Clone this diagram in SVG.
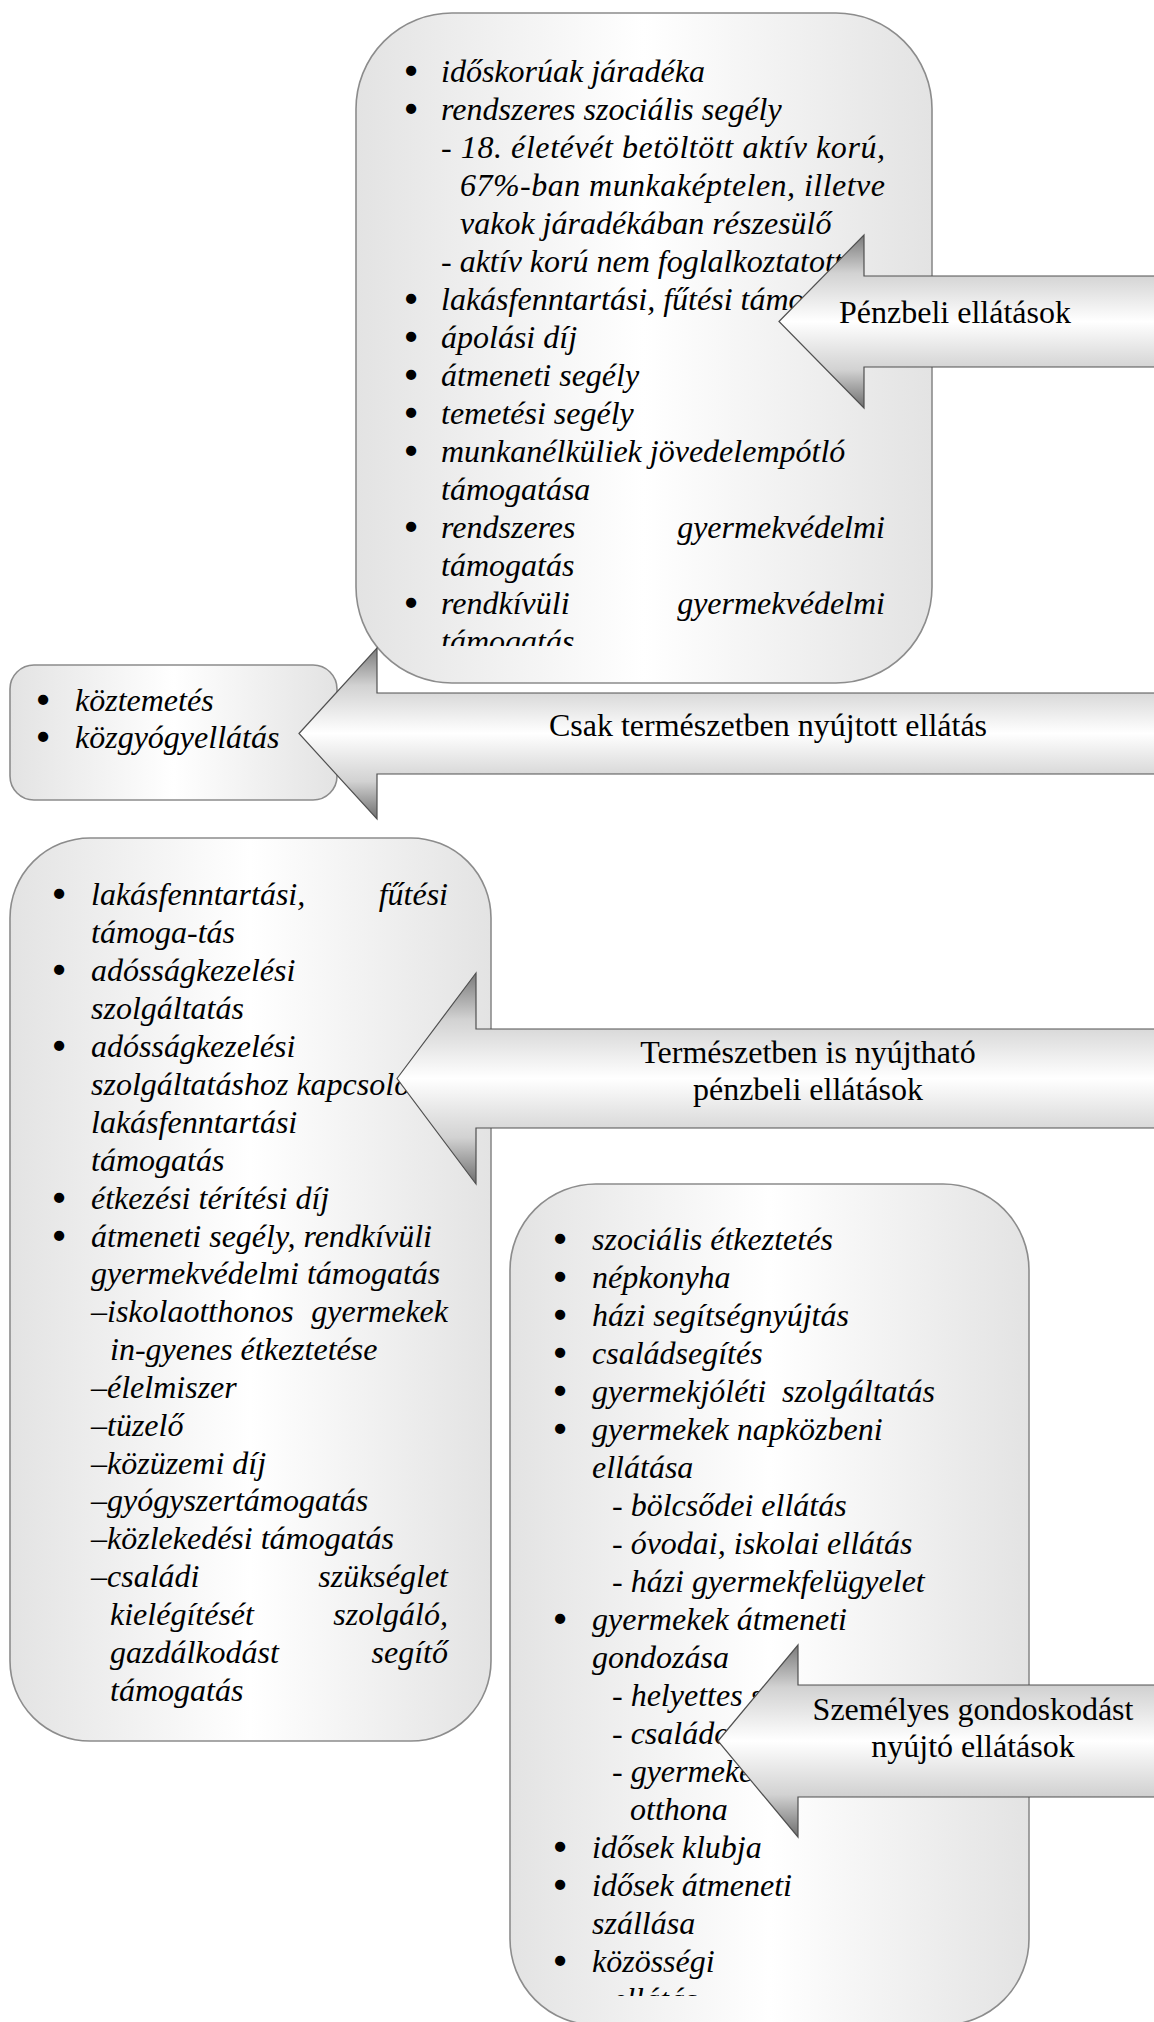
<svg xmlns="http://www.w3.org/2000/svg" width="1154" height="2022" viewBox="0 0 1154 2022">
<style>
.box{fill:url(#boxGrad);stroke:#8c8c8c;stroke-width:1.6}
.arrow{fill:url(#arrowGrad);stroke:#505050;stroke-width:1.2}
.it{font-family:"Liberation Serif","Times New Roman",serif;font-style:italic;font-size:32px;fill:#000}
.bul{font-family:"Liberation Serif","Times New Roman",serif;font-size:32px;fill:#000;stroke:#000;stroke-width:2.6;text-anchor:middle}
.end{text-anchor:end}
.lbl{font-family:"Liberation Serif","Times New Roman",serif;font-size:32px;fill:#000;text-anchor:middle}
</style>
<defs>
<linearGradient id="boxGrad" x1="0" y1="0" x2="1" y2="0">
<stop offset="0" stop-color="#e3e3e3"/>
<stop offset="0.5" stop-color="#ffffff"/>
<stop offset="1" stop-color="#e3e3e3"/>
</linearGradient>
<linearGradient id="arrowGrad" x1="0" y1="0" x2="0" y2="1">
<stop offset="0" stop-color="#7a7a7a"/>
<stop offset="0.22" stop-color="#d2d2d2"/>
<stop offset="0.5" stop-color="#ffffff"/>
<stop offset="0.78" stop-color="#d2d2d2"/>
<stop offset="1" stop-color="#6e6e6e"/>
</linearGradient>
<clipPath id="clip1"><rect x="356" y="13" width="576" height="633"/></clipPath>
<clipPath id="clip4"><rect x="510" y="1184" width="519" height="812"/></clipPath>
</defs>

<g id="node-penzbeli-list">
<rect class="box" x="356" y="13" width="576" height="670" rx="96" ry="96"/>
<g clip-path="url(#clip1)">
<text class="bul" x="411" y="82">•</text><text class="it" x="441" y="82">időskorúak járadéka</text>
<text class="bul" x="411" y="120">•</text><text class="it" x="441" y="120">rendszeres szociális segély</text>
<text class="it" x="441" y="158" textLength="444" lengthAdjust="spacing">- 18. életévét betöltött aktív korú,</text>
<text class="it" x="460" y="196" textLength="425" lengthAdjust="spacing">67%-ban munkaképtelen, illetve</text>
<text class="it" x="460" y="234">vakok járadékában részesülő</text>
<text class="it" x="441" y="272">- aktív korú nem foglalkoztatott</text>
<text class="bul" x="411" y="310">•</text><text class="it" x="441" y="310">lakásfenntartási, fűtési támo</text>
<text class="bul" x="411" y="348">•</text><text class="it" x="441" y="348">ápolási díj</text>
<text class="bul" x="411" y="386">•</text><text class="it" x="441" y="386">átmeneti segély</text>
<text class="bul" x="411" y="424">•</text><text class="it" x="441" y="424">temetési segély</text>
<text class="bul" x="411" y="462">•</text><text class="it" x="441" y="462">munkanélküliek jövedelempótló</text>
<text class="it" x="441" y="500">támogatása</text>
<text class="bul" x="411" y="538">•</text><text class="it" x="441" y="538">rendszeres</text><text class="it end" x="885" y="538">gyermekvédelmi</text>
<text class="it" x="441" y="576">támogatás</text>
<text class="bul" x="411" y="614">•</text><text class="it" x="441" y="614">rendkívüli</text><text class="it end" x="885" y="614">gyermekvédelmi</text>
<text class="it" x="441" y="652">támogatás</text>
</g>
</g>

<g id="node-termeszetben-list">
<rect class="box" x="10" y="665" width="327" height="135" rx="24" ry="24"/>
<text class="bul" x="43" y="711">•</text><text class="it" x="75" y="711">köztemetés</text>
<text class="bul" x="43" y="748">•</text><text class="it" x="75" y="748">közgyógyellátás</text>
</g>

<g id="node-penzbeli-termeszetben-list">
<rect class="box" x="10" y="838" width="481" height="903" rx="80" ry="80"/>
<text class="bul" x="59" y="905">•</text><text class="it" x="91" y="905">lakásfenntartási,</text><text class="it end" x="448" y="905">fűtési</text>
<text class="it" x="91" y="943">támoga-tás</text>
<text class="bul" x="59" y="981">•</text><text class="it" x="91" y="981">adósságkezelési</text>
<text class="it" x="91" y="1019">szolgáltatás</text>
<text class="bul" x="59" y="1057">•</text><text class="it" x="91" y="1057">adósságkezelési</text>
<text class="it" x="91" y="1095">szolgáltatáshoz kapcsoló</text>
<text class="it" x="91" y="1133">lakásfenntartási</text>
<text class="it" x="91" y="1171">támogatás</text>
<text class="bul" x="59" y="1209">•</text><text class="it" x="91" y="1209">étkezési térítési díj</text>
<text class="bul" x="59" y="1247">•</text><text class="it" x="91" y="1247">átmeneti segély, rendkívüli</text>
<text class="it" x="91" y="1284">gyermekvédelmi támogatás</text>
<text class="it" x="91" y="1322">–iskolaotthonos</text><text class="it end" x="448" y="1322">gyermekek</text>
<text class="it" x="110" y="1360">in-gyenes étkeztetése</text>
<text class="it" x="91" y="1398">–élelmiszer</text>
<text class="it" x="91" y="1436">–tüzelő</text>
<text class="it" x="91" y="1474">–közüzemi díj</text>
<text class="it" x="91" y="1511">–gyógyszertámogatás</text>
<text class="it" x="91" y="1549">–közlekedési támogatás</text>
<text class="it" x="91" y="1587">–családi</text><text class="it end" x="448" y="1587">szükséglet</text>
<text class="it" x="110" y="1625">kielégítését</text><text class="it end" x="448" y="1625">szolgáló,</text>
<text class="it" x="110" y="1663">gazdálkodást</text><text class="it end" x="448" y="1663">segítő</text>
<text class="it" x="110" y="1701">támogatás</text>
</g>

<g id="node-szemelyes-list">
<rect class="box" x="510" y="1184" width="519" height="841" rx="86" ry="86"/>
<g clip-path="url(#clip4)">
<text class="bul" x="560" y="1250">•</text><text class="it" x="592" y="1250">szociális étkeztetés</text>
<text class="bul" x="560" y="1288">•</text><text class="it" x="592" y="1288">népkonyha</text>
<text class="bul" x="560" y="1326">•</text><text class="it" x="592" y="1326">házi segítségnyújtás</text>
<text class="bul" x="560" y="1364">•</text><text class="it" x="592" y="1364">családsegítés</text>
<text class="bul" x="560" y="1402">•</text><text class="it" x="592" y="1402">gyermekjóléti</text><text class="it" x="782" y="1402">szolgáltatás</text>
<text class="bul" x="560" y="1440">•</text><text class="it" x="592" y="1440">gyermekek napközbeni</text>
<text class="it" x="592" y="1478">ellátása</text>
<text class="it" x="612" y="1516">- bölcsődei ellátás</text>
<text class="it" x="612" y="1554">- óvodai, iskolai ellátás</text>
<text class="it" x="612" y="1592">- házi gyermekfelügyelet</text>
<text class="bul" x="560" y="1630">•</text><text class="it" x="592" y="1630">gyermekek átmeneti</text>
<text class="it" x="592" y="1668">gondozása</text>
<text class="it" x="612" y="1706">- helyettes s</text>
<text class="it" x="612" y="1744">- családo</text>
<text class="it" x="612" y="1782">- gyermeke</text>
<text class="it" x="630" y="1820">otthona</text>
<text class="bul" x="560" y="1858">•</text><text class="it" x="592" y="1858">idősek klubja</text>
<text class="bul" x="560" y="1896">•</text><text class="it" x="592" y="1896">idősek átmeneti</text>
<text class="it" x="592" y="1934">szállása</text>
<text class="bul" x="560" y="1972">•</text><text class="it" x="592" y="1972">közösségi</text>
<text class="it" x="612" y="2010">ellátás</text>
</g>
</g>

<g id="connectors">
<g id="arrow-penzbeli">
<path class="arrow" d="M779,321.5 L864,235 L864,276 L1170,276 L1170,367 L864,367 L864,408 Z"/>
<text class="lbl" x="955" y="323">Pénzbeli ellátások</text>
</g>
<g id="arrow-termeszetben">
<path class="arrow" d="M299,733.5 L377,648 L377,693 L1170,693 L1170,774 L377,774 L377,819 Z"/>
<text class="lbl" x="768" y="736">Csak természetben nyújtott ellátás</text>
</g>
<g id="arrow-termeszetben-is">
<path class="arrow" d="M397,1078.5 L476,973 L476,1029 L1170,1029 L1170,1128 L476,1128 L476,1184 Z"/>
<text class="lbl" x="808" y="1063">Természetben is nyújtható</text>
<text class="lbl" x="808" y="1100">pénzbeli ellátások</text>
</g>
<g id="arrow-szemelyes">
<path class="arrow" d="M718,1741 L798,1645 L798,1685 L1170,1685 L1170,1797 L798,1797 L798,1837 Z"/>
<text class="lbl" x="973" y="1720">Személyes gondoskodást</text>
<text class="lbl" x="973" y="1757">nyújtó ellátások</text>
</g>
</g>
</svg>
